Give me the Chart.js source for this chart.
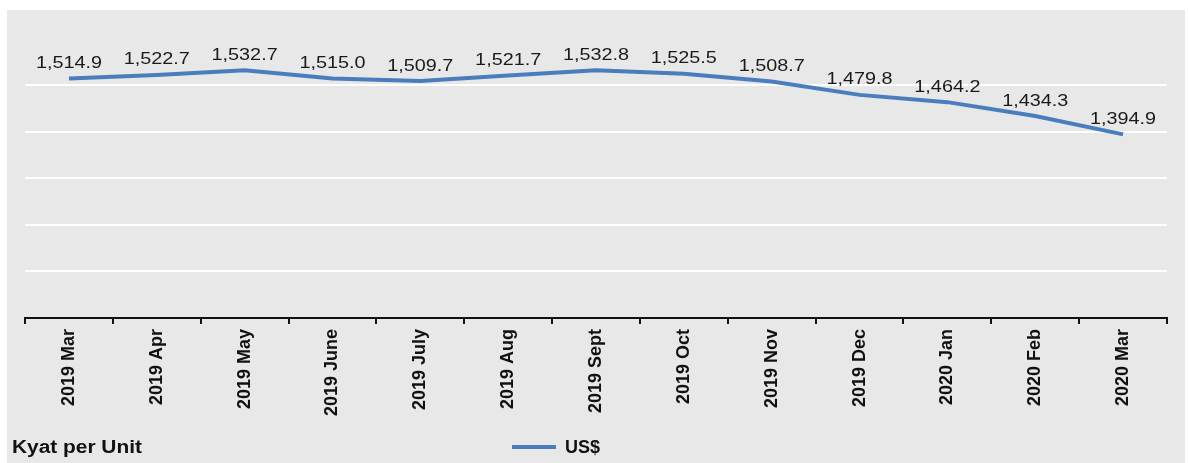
<!DOCTYPE html>
<html>
<head>
<meta charset="utf-8">
<script src="https://cdn.jsdelivr.net/npm/chart.js@4/dist/chart.umd.min.js"></script>
<style>
  html, body { margin: 0; padding: 0; background: #fff; }
  #panel { position: absolute; left: 7px; top: 10px; width: 1178px; height: 453px; background: #e8e8e8; }
  #panel canvas { position: absolute; left: 0; top: 0; }
  .note { position: absolute; font-family: "Liberation Sans", Arial, sans-serif; font-weight: bold; font-size: 18px; color: #111; line-height: 20px; }
  #unit { left: 5px; top: 427px; transform: scaleX(1.16); transform-origin: left center; }
  #legend { left: 505px; top: 427px; }
  #legend span.swatch { display: inline-block; width: 44px; height: 4px; background: #4a7dbd; vertical-align: middle; margin-right: 9px; position: relative; top: -1px; }
</style>
</head>
<body>
<div id="panel">
  <canvas id="fx_rate" width="1178" height="453"></canvas>
  <div class="note" id="unit">Kyat per Unit</div>
  <div class="note" id="legend"><span class="swatch"></span>US$</div>
</div>
<script>
/*_____________________DATA____________________*/

const months = ['2019 Mar', '2019 Apr', '2019 May', '2019 June', '2019 July',
                '2019 Aug', '2019 Sept', '2019 Oct', '2019 Nov', '2019 Dec',
                '2020 Jan', '2020 Feb', '2020 Mar'];

const usd = [1514.9, 1522.7, 1532.7, 1515.0, 1509.7, 1521.7, 1532.8,
             1525.5, 1508.7, 1479.8, 1464.2, 1434.3, 1394.9];

const yMin = 1000;
const yMax = 1600;

/*_____________________VALUE_LABELS____________________*/

// labels in the source look a bit wide, so stretch them horizontally
const valueLabels = {
  id: 'valueLabels',
  afterDatasetsDraw(chart) {
    const ctx = chart.ctx;
    const meta = chart.getDatasetMeta(0);
    ctx.save();
    ctx.font = '16.5px "Liberation Sans", Arial, sans-serif';
    ctx.fillStyle = '#1a1a1a';
    ctx.textAlign = 'center';
    ctx.textBaseline = 'middle';
    meta.data.forEach((pt, i) => {
      const txt = usd[i].toLocaleString('en-US', {minimumFractionDigits: 1, maximumFractionDigits: 1});
      ctx.save();
      ctx.translate(pt.x, pt.y - 15);
      ctx.scale(1.2, 1);
      ctx.fillText(txt, 0, 0);
      ctx.restore();
    });
    ctx.restore();
  }
};

/*_____________________CHART____________________*/

const fx_rate = document.getElementById('fx_rate');
new Chart(fx_rate, {
  type: 'line',
  data: {
    labels: months,
    datasets: [
      {
        label: 'US$',
        data: usd,
        borderColor: '#4a7dbd',
        backgroundColor: '#4a7dbd',
        borderWidth: 4,
        pointRadius: 0,
        tension: 0
      }
    ]
  },
  options: {
    responsive: false,
    animation: false,
    layout: { padding: { left: 18, right: 18, top: 29, bottom: 42 } },
    plugins: {
      legend: { display: false },
      tooltip: { enabled: false }
    },
    scales: {
      x: {
        offset: true,
        border: { display: true, color: '#111', width: 2 },
        grid: {
          offset: true,
          drawOnChartArea: false,
          drawTicks: true,
          tickLength: 6,
          color: '#111',
          lineWidth: 2
        },
        ticks: {
          minRotation: 90,
          maxRotation: 90,
          autoSkip: false,
          padding: 5,
          color: '#111',
          font: { family: '"Liberation Sans", Arial, sans-serif', size: 18, weight: 'bold' }
        }
      },
      y: {
        min: yMin,
        max: yMax,
        border: { display: false },
        grid: {
          drawTicks: false,
          lineWidth: 2,
          color: (c) => (c.tick && c.tick.value === yMax) ? 'rgba(0,0,0,0)' : '#ffffff'
        },
        ticks: { display: false, stepSize: 100 }
      }
    }
  },
  plugins: [valueLabels]
});
</script>
</body>
</html>
